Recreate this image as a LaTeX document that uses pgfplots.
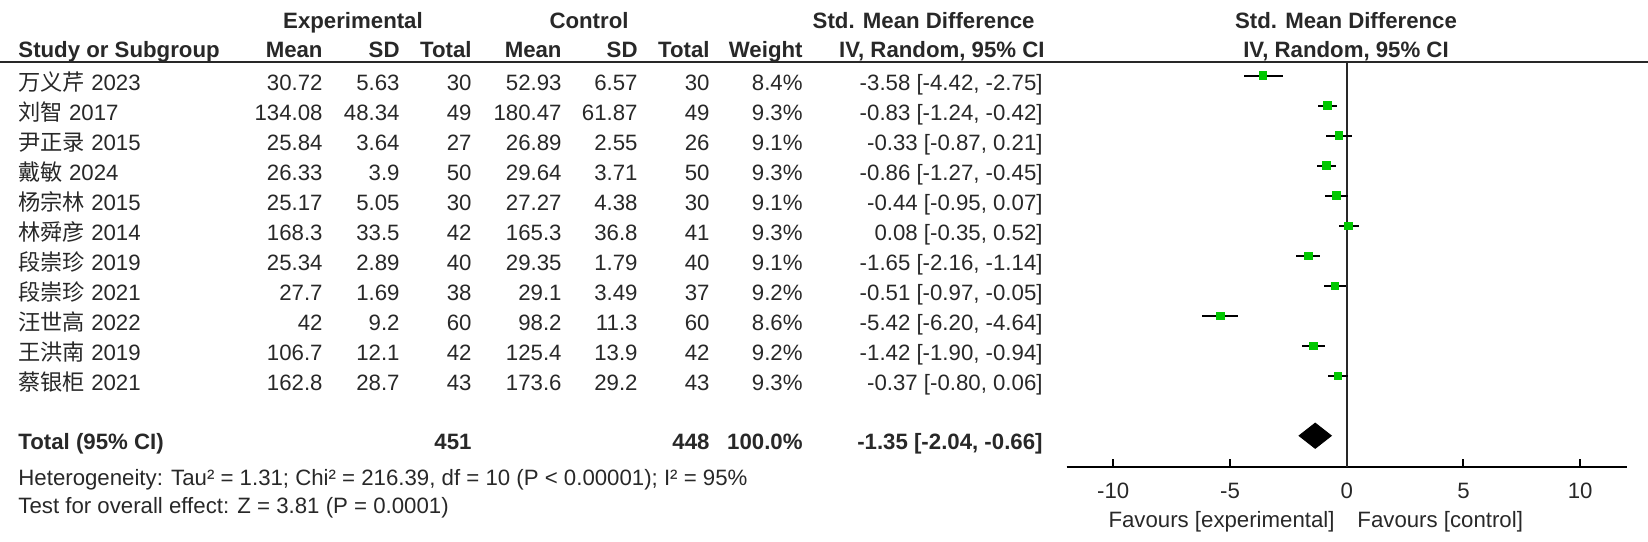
\documentclass[border=0pt]{standalone}
\usepackage{fontspec}
\setmainfont{Liberation Sans}
\newfontfamily\cjk{Noto Sans CJK SC}
\usepackage{pgfplots}
\usepackage{pgfplotstable}
\pgfplotsset{compat=1.18}
\definecolor{txt}{RGB}{40,40,40}
\definecolor{smd}{RGB}{0,200,0}

% row, SMD, lower and upper 95% CI
\pgfplotstableread{
row md lo hi
1 -3.58 -4.42 -2.75
2 -0.83 -1.24 -0.42
3 -0.33 -0.87 0.21
4 -0.86 -1.27 -0.45
5 -0.44 -0.95 0.07
6 0.08 -0.35 0.52
7 -1.65 -2.16 -1.14
8 -0.51 -0.97 -0.05
9 -5.42 -6.20 -4.64
10 -1.42 -1.90 -0.94
11 -0.37 -0.80 0.06
}\studies

\tikzset{t/.style={inner sep=0pt, text=txt, font=\fontsize{10}{12}\selectfont},
         b/.style={t, font=\fontsize{10}{12}\selectfont\bfseries}}
% y (baseline), name, exp mean, sd, total, ctrl mean, sd, total, weight
\newcommand\st[9]{%
  \node[t, anchor=base west] at (18,#1) {#2};
  \node[t, anchor=base east] at (323,#1) {#3};
  \node[t, anchor=base east] at (400,#1) {#4};
  \node[t, anchor=base east] at (472,#1) {#5};
  \node[t, anchor=base east] at (562,#1) {#6};
  \node[t, anchor=base east] at (638,#1) {#7};
  \node[t, anchor=base east] at (710,#1) {#8};
  \node[t, anchor=base east] at (803,#1) {#9};}
\newcommand\ci[2]{\node[t, anchor=base east] at (1043,#1) {#2};}

\begin{document}
\begin{tikzpicture}[x=0.45pt, y=-0.45pt]

% header
\node[b, anchor=base] at (353,28) {Experimental};
\node[b, anchor=base] at (589,28) {Control};
\node[b, anchor=base east] at (1035,28) {Std. Mean Difference};
\node[b, anchor=base] at (1346,28) {Std. Mean Difference};
\node[b, anchor=base west] at (18,57) {Study or Subgroup};
\node[b, anchor=base east] at (323,57) {Mean};
\node[b, anchor=base east] at (400,57) {SD};
\node[b, anchor=base east] at (472,57) {Total};
\node[b, anchor=base east] at (562,57) {Mean};
\node[b, anchor=base east] at (638,57) {SD};
\node[b, anchor=base east] at (710,57) {Total};
\node[b, anchor=base east] at (803,57) {Weight};
\node[b, anchor=base east] at (1045,57) {IV, Random, 95\% CI};
\node[b, anchor=base] at (1346,57) {IV, Random, 95\% CI};
\draw[txt, line width=0.9pt] (0,61.5) -- (1648,61.5);

% studies
\st{90}{{\cjk 万义芹} 2023}{30.72}{5.63}{30}{52.93}{6.57}{30}{8.4\%}
\ci{90}{-3.58 [-4.42, -2.75]}
\st{120}{{\cjk 刘智} 2017}{134.08}{48.34}{49}{180.47}{61.87}{49}{9.3\%}
\ci{120}{-0.83 [-1.24, -0.42]}
\st{150}{{\cjk 尹正录} 2015}{25.84}{3.64}{27}{26.89}{2.55}{26}{9.1\%}
\ci{150}{-0.33 [-0.87, 0.21]}
\st{180}{{\cjk 戴敏} 2024}{26.33}{3.9}{50}{29.64}{3.71}{50}{9.3\%}
\ci{180}{-0.86 [-1.27, -0.45]}
\st{210}{{\cjk 杨宗林} 2015}{25.17}{5.05}{30}{27.27}{4.38}{30}{9.1\%}
\ci{210}{-0.44 [-0.95, 0.07]}
\st{240}{{\cjk 林舜彦} 2014}{168.3}{33.5}{42}{165.3}{36.8}{41}{9.3\%}
\ci{240}{0.08 [-0.35, 0.52]}
\st{270}{{\cjk 段崇珍} 2019}{25.34}{2.89}{40}{29.35}{1.79}{40}{9.1\%}
\ci{270}{-1.65 [-2.16, -1.14]}
\st{300}{{\cjk 段崇珍} 2021}{27.7}{1.69}{38}{29.1}{3.49}{37}{9.2\%}
\ci{300}{-0.51 [-0.97, -0.05]}
\st{330}{{\cjk 汪世高} 2022}{42}{9.2}{60}{98.2}{11.3}{60}{8.6\%}
\ci{330}{-5.42 [-6.20, -4.64]}
\st{360}{{\cjk 王洪南} 2019}{106.7}{12.1}{42}{125.4}{13.9}{42}{9.2\%}
\ci{360}{-1.42 [-1.90, -0.94]}
\st{390}{{\cjk 蔡银柜} 2021}{162.8}{28.7}{43}{173.6}{29.2}{43}{9.3\%}
\ci{390}{-0.37 [-0.80, 0.06]}

% total
\node[b, anchor=base west] at (18,449) {Total (95\% CI)};
\node[b, anchor=base east] at (472,449) {451};
\node[b, anchor=base east] at (710,449) {448};
\node[b, anchor=base east] at (803,449) {100.0\%};
\node[b, anchor=base east] at (1043,449) {-1.35 [-2.04, -0.66]};
\node[t, anchor=base west] at (18,485) {Heterogeneity: Tau² = 1.31; Chi² = 216.39, df = 10 (P < 0.00001); I² = 95\%};
\node[t, anchor=base west] at (18,513) {Test for overall effect: Z = 3.81 (P = 0.0001)};

\begin{axis}[
  at={(479.93pt,-210.02pt)}, anchor=south west,
  scale only axis, width=252.18pt, height=182.57pt,
  xmin=-12, xmax=12, ymin=0.51, ymax=14.033, y dir=reverse,
  axis x line*=bottom, axis y line=none,
  axis line style={black, line width=0.9pt, -},
  xtick={-10,-5,0,5,10}, xticklabels={-10,-5,0,5,10},
  tick align=inside, major tick length=3.6pt,
  tick style={black, line width=0.9pt},
  xticklabel style={font=\fontsize{10}{12}\selectfont, text=txt, anchor=base, yshift=-14.4pt},
  clip=false,
]
\draw[txt, line width=0.7pt] (axis cs:0,0.51) -- (axis cs:0,14.033);
\addplot[only marks, mark=square*, mark size=1.7pt, mark options={fill=smd, draw=smd},
  error bars/.cd, x dir=both, x explicit, error mark=none,
  error bar style={black, line width=0.9pt}]
  table[x=md, y=row,
        x error plus expr=\thisrow{hi}-\thisrow{md},
        x error minus expr=\thisrow{md}-\thisrow{lo}] {\studies};
\addplot[fill=black, draw=black] coordinates {(-2.04,13) (-1.35,12.58) (-0.66,13) (-1.35,13.42)} -- cycle;
\end{axis}

\node[t, anchor=base east] at (1335,527) {Favours [experimental]};
\node[t, anchor=base west] at (1357,527) {Favours [control]};

\pgfresetboundingbox
\path[use as bounding box] (0,0) rectangle (1648,541);
\end{tikzpicture}
\end{document}
